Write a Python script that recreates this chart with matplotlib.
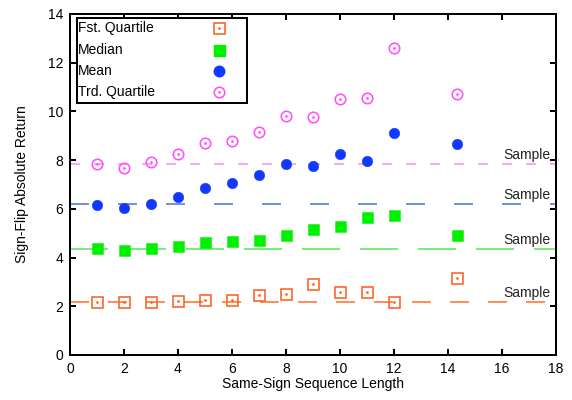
# ------------------------------------------------------------------------------
#  IMPORT
# ------------------------------------------------------------------------------
import matplotlib
matplotlib.use('Agg')
import matplotlib.pyplot as plt
from matplotlib.patches import Rectangle

# ------------------------------------------------------------------------------
#  DATA
# ------------------------------------------------------------------------------
seq_length   = [1, 2, 3, 4, 5, 6, 7, 8, 9, 10, 11, 12, 14.35]
fst_quartile = [2.19, 2.16, 2.16, 2.20, 2.27, 2.26, 2.48, 2.52, 2.93, 2.57, 2.57, 2.16, 3.16]
median       = [4.38, 4.31, 4.38, 4.47, 4.63, 4.67, 4.72, 4.91, 5.17, 5.28, 5.65, 5.73, 4.91]
mean         = [6.17, 6.02, 6.21, 6.50, 6.84, 7.07, 7.39, 7.85, 7.77, 8.26, 7.98, 9.10, 8.65]
trd_quartile = [7.83, 7.69, 7.94, 8.26, 8.72, 8.78, 9.17, 9.81, 9.78, 10.52, 10.55, 12.61, 10.71]

# whole-sample reference levels
sample_levels = {'fst': 2.16, 'median': 4.37, 'mean': 6.21, 'trd': 7.85}

x_ticks = list(range(0, 19, 2))
y_ticks = list(range(0, 15, 2))

# ------------------------------------------------------------------------------
#  STYLE
# ------------------------------------------------------------------------------
plt.rcParams['font.family'] = ['Liberation Sans', 'DejaVu Sans']
plt.rcParams['font.size'] = 10
plt.rcParams['lines.scale_dashes'] = False

px = 0.72  # points per pixel at dpi 100

c_orange  = '#ff6020'
c_green   = '#00f000'
c_blue    = '#1238ff'
c_magenta = '#ff50ff'

ln_orange  = '#ff6a20'
ln_green   = '#50e850'
ln_blue    = '#4a6af0'
ln_magenta = '#ff88f4'

fig = plt.figure(figsize=(5.72, 4.0), dpi=100)
ax = fig.add_axes([70/572, 45/400, 486/572, 341/400])

# ------------------------------------------------------------------------------
#  SAMPLE LINES
# ------------------------------------------------------------------------------
lines_spec = [('trd', ln_magenta, (10*px, 14*px)),
              ('mean', ln_blue, (19*px, 29*px)),
              ('median', ln_green, (38*px, 20*px)),
              ('fst', ln_orange, (19*px, 19*px))]
for key, col, dash in lines_spec:
    lvl = sample_levels[key]
    ax.plot([0, 18], [lvl, lvl], color=col, linewidth=1.5*px, dashes=dash, zorder=1)
    ax.annotate('Sample', xy=(17.78, lvl), xytext=(0, 6.5), textcoords='offset points',
                ha='right', va='center', fontsize=10, color='#222222')

# ------------------------------------------------------------------------------
#  POINTS
# ------------------------------------------------------------------------------
ms_sq = 11*px
ms_c = 10.5*px
ax.plot(seq_length, fst_quartile, linestyle='none', marker='s', markersize=ms_sq,
        markerfacecolor='none', markeredgecolor=c_orange, markeredgewidth=1.6*px, zorder=3)
ax.plot(seq_length, fst_quartile, linestyle='none', marker='o', markersize=1.3*px,
        color=c_orange, zorder=3)
ax.plot(seq_length, median, linestyle='none', marker='s', markersize=ms_sq,
        color=c_green, markeredgewidth=0.5*px, zorder=3)
ax.plot(seq_length, mean, linestyle='none', marker='o', markersize=ms_c,
        color=c_blue, markeredgewidth=0.5*px, zorder=3)
ax.plot(seq_length, trd_quartile, linestyle='none', marker='o', markersize=ms_c,
        markerfacecolor='none', markeredgecolor=c_magenta, markeredgewidth=1.6*px, zorder=3)
ax.plot(seq_length, trd_quartile, linestyle='none', marker='o', markersize=1.3*px,
        color=c_magenta, zorder=3)

# ------------------------------------------------------------------------------
#  AXES
# ------------------------------------------------------------------------------
ax.set_xlim(0, 18)
ax.set_ylim(0, 14)
ax.set_xticks(x_ticks)
ax.set_yticks(y_ticks)
ax.tick_params(direction='in', length=6*px, width=2*px, top=True, right=True,
               labelsize=10, pad=5)
for s in ax.spines.values():
    s.set_linewidth(2*px)
ax.set_xlabel('Same-Sign Sequence Length', fontsize=10, labelpad=1)
ax.set_ylabel('Sign-Flip Absolute Return', fontsize=10, labelpad=13)

# ------------------------------------------------------------------------------
#  LEGEND (gnuplot style: text left, sample right)
# ------------------------------------------------------------------------------
ax.add_patch(Rectangle((0.0144, 0.739), 0.35, 0.249, transform=ax.transAxes,
                       facecolor='white', edgecolor='black', linewidth=2*px, zorder=4))
legend_rows = [('Fst. Quartile', 0.959), ('Median', 0.894), ('Mean', 0.833), ('Trd. Quartile', 0.771)]
for label, yy in legend_rows:
    ax.text(0.0165, yy, label, transform=ax.transAxes, ha='left', va='center',
            fontsize=10, zorder=5)
mx = 0.3066
ax.plot([mx], [0.959], transform=ax.transAxes, marker='s', markersize=ms_sq,
        markerfacecolor='none', markeredgecolor=c_orange, markeredgewidth=1.6*px,
        zorder=5, clip_on=False)
ax.plot([mx], [0.959], transform=ax.transAxes, marker='o', markersize=1.3*px,
        color=c_orange, zorder=5, clip_on=False)
ax.plot([mx], [0.894], transform=ax.transAxes, marker='s', markersize=ms_sq,
        color=c_green, zorder=5, clip_on=False)
ax.plot([mx], [0.833], transform=ax.transAxes, marker='o', markersize=ms_c,
        color=c_blue, zorder=5, clip_on=False)
ax.plot([mx], [0.771], transform=ax.transAxes, marker='o', markersize=ms_c,
        markerfacecolor='none', markeredgecolor=c_magenta, markeredgewidth=1.6*px,
        zorder=5, clip_on=False)
ax.plot([mx], [0.771], transform=ax.transAxes, marker='o', markersize=1.3*px,
        color=c_magenta, zorder=5, clip_on=False)

fig.savefig('out.png', dpi=100)
